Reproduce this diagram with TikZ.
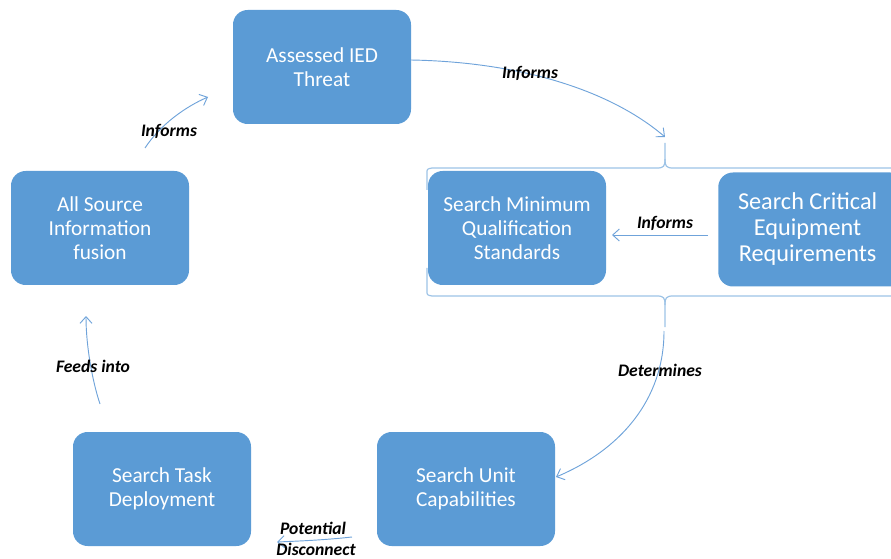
\documentclass[tikz,border=0pt]{standalone}
\usepackage{fontspec}
\setmainfont{Carlito}
\usetikzlibrary{arrows.meta}
\definecolor{boxblue}{HTML}{5B9BD5}
\definecolor{lineblue}{HTML}{6FA3DA}
\definecolor{braceblue}{HTML}{9DC3E6}
\tikzset{
  box/.style={draw=none, fill=boxblue, rounded corners=11pt, text=white,
    minimum width=133.5pt, minimum height=85.5pt, align=center,
    font=\fontsize{16}{18}\selectfont, inner sep=0pt},
  bigbox/.style={box, font=\fontsize{18.2}{19.5}\selectfont},
  conn/.style={draw=lineblue, line width=0.7pt, -{Straight Barb[length=5pt,width=9pt]}},
  brace/.style={draw=braceblue, line width=0.9pt},
  lbl/.style={font=\fontsize{13.2}{14}\selectfont\bfseries\itshape, text=black, inner sep=0pt, align=center}
}
\begin{document}
\begin{tikzpicture}[x=0.75pt,y=-0.75pt]
\useasboundingbox (0,0) rectangle (891,559);
% boxes
\node[box] (ied) at (322,67) {Assessed IED\\Threat};
\node[box] (fusion) at (100,228) {All Source\\Information\\fusion};
\node[box] (mqs) at (517,228) {Search Minimum\\Qualification\\Standards};
\node[bigbox, minimum width=140pt, anchor=west] (cer) at (718,229.5) {\hspace*{-6pt}Search Critical\\\hspace*{-6pt}Equipment\\\hspace*{-6pt}Requirements};
\node[box] (suc) at (466,489) {Search Unit\\Capabilities};
\node[box] (std) at (162,489) {Search Task\\Deployment};
% braces
\coordinate (ttip) at (665,143);
\coordinate (btip) at (665,327);
\draw[brace] (427,190) -- (427,173) .. controls (427,169) .. (432,168) -- (657,168)
  .. controls (664,168) and (665,166) .. (665,159) -- (ttip);
\draw[brace] (665,159) .. controls (665,166) and (666,168) .. (673,168) -- (900,168);
\draw[brace] (427,268) -- (427,291) .. controls (427,295) .. (432,296) -- (657,296)
  .. controls (664,296) and (665,298) .. (665,305) -- (btip);
\draw[brace] (665,305) .. controls (665,298) and (666,296) .. (673,296) -- (900,296);
% connectors
\coordinate (a1s) at (411,60);
\coordinate (a1e) at (665,137);
\draw[conn] (a1s) .. controls (520,62) and (610,90) .. (a1e);
\node[lbl] (l1) at (530,73) {Informs};

\coordinate (a2s) at (664,331);
\coordinate (a2e) at (556,477);
\draw[conn] (a2s) .. controls (664,400) and (620,450) .. (a2e);
\node[lbl] (l2) at (660,370) {Determines};

\coordinate (a3s) at (708,235);
\coordinate (a3e) at (612,235);
\draw[conn] (a3s) -- (a3e);
\node[lbl] (l3) at (665,223) {Informs};

\coordinate (a4s) at (352,537);
\coordinate (a4e) at (277,542);
\draw[conn] (a4s) .. controls (325,540) and (300,541) .. (a4e);
\node[lbl] (l4a) at (313,528) {Potential};
\node[lbl] (l4b) at (316,549) {Disconnect};

\coordinate (a5s) at (100,404);
\coordinate (a5e) at (86,316);
\draw[conn] (a5s) .. controls (92,380) and (86,345) .. (a5e);
\node[lbl] (l5) at (93,366) {Feeds into};

\coordinate (a6s) at (145,148);
\coordinate (a6e) at (208,97);
\draw[conn] (a6s) .. controls (160,125) and (185,107) .. (a6e);
\node[lbl] (l6) at (169,131) {Informs};
\end{tikzpicture}
\end{document}
